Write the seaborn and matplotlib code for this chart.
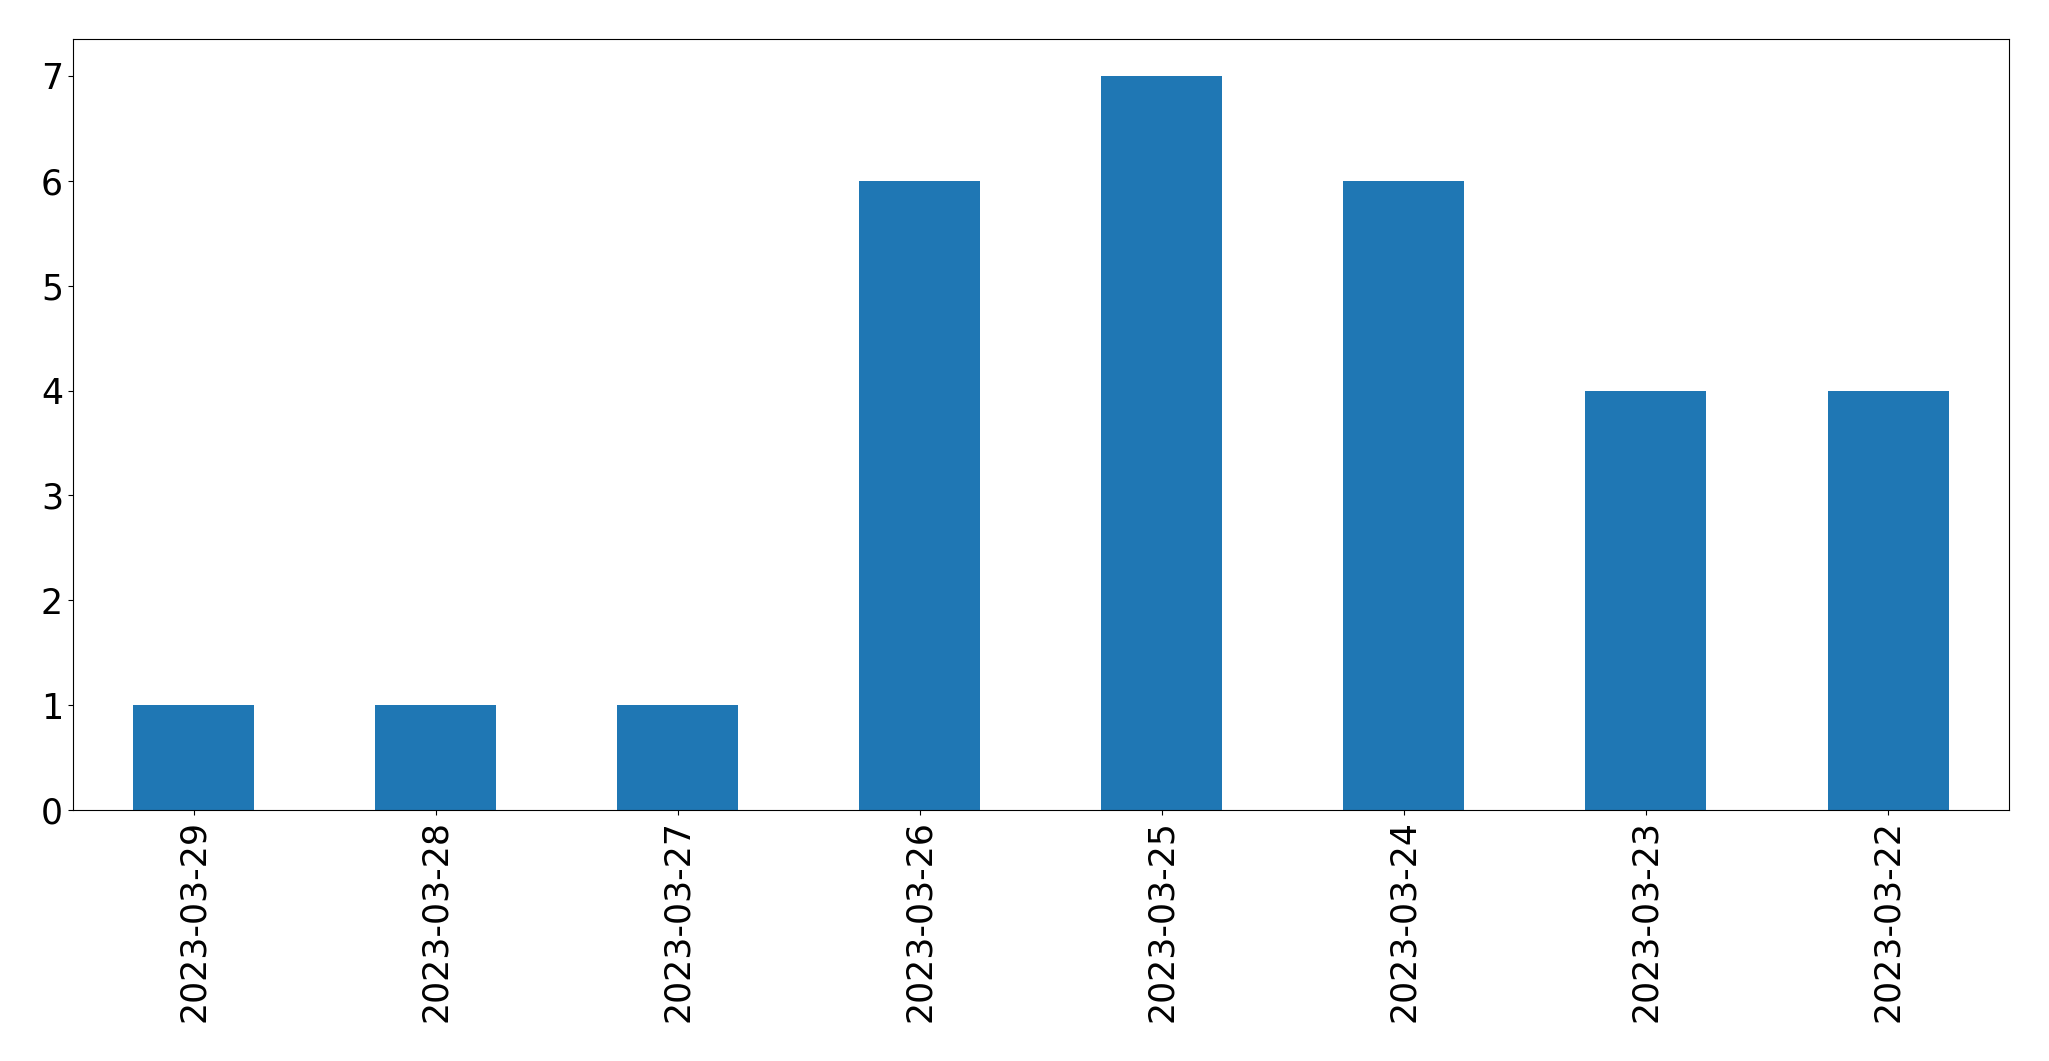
import pandas as pd
import matplotlib
matplotlib.use('Agg')
import matplotlib.pyplot as plt
import seaborn as sns

dates = ['2023-03-29', '2023-03-28', '2023-03-27', '2023-03-26',
         '2023-03-25', '2023-03-24', '2023-03-23', '2023-03-22']
counts = [1, 1, 1, 6, 7, 6, 4, 4]

df = pd.DataFrame({'date': dates, 'count': counts})

fig, ax = plt.subplots(figsize=(20.49, 10.61), dpi=100)
sns.barplot(data=df, x='date', y='count', color='#1f77b4', saturation=1,
            width=0.5, ax=ax)
ax.set_xlim(-0.5, len(dates) - 0.5)
ax.set_ylim(0, 7.35)
ax.set_xlabel('')
ax.set_ylabel('')
ax.tick_params(axis='both', labelsize=25)
plt.xticks(rotation=90)
fig.subplots_adjust(left=0.0355, right=0.9805, top=0.963, bottom=0.2366)

plt.savefig('out.png')
plt.close()
